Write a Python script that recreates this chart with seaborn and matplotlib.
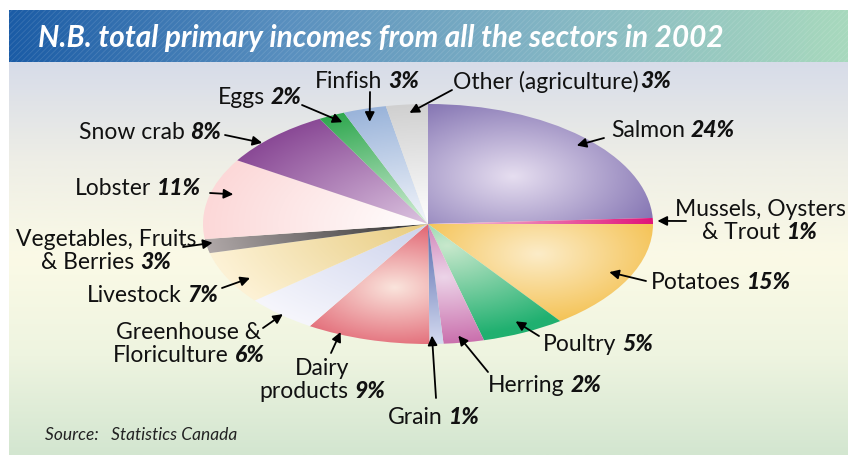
import numpy as np
import matplotlib
matplotlib.use("Agg")
import matplotlib.pyplot as plt
import seaborn as sns

# data (clockwise from 12 o'clock)
sectors = ["Salmon", "Mussels, Oysters\n& Trout", "Potatoes", "Poultry", "Herring",
           "Grain", "Dairy\nproducts", "Greenhouse &\nFloriculture", "Livestock",
           "Vegetables, Fruits\n& Berries", "Lobster", "Snow crab", "Eggs", "Finfish",
           "Other (agriculture)"]
shares = [24.2, 0.8, 15.0, 6.0, 2.9, 1.0, 8.9, 5.2, 7.1, 1.9, 10.9, 8.1, 1.9, 3.1, 3.0]
pct_text = ["24%", "1%", "15%", "5%", "2%", "1%", "9%", "6%", "7%", "3%",
            "11%", "8%", "2%", "3%", "3%"]

# wedge gradients: (inner colour, outer colour, highlight radius)
wedge_grad = [("#e6def0", "#8070b0", 0.55), ("#f6d0e2", "#e0147a", 0.0),
              ("#fcecc8", "#f2b632", 0.55), ("#c8e8cc", "#20b070", 0.2),
              ("#ecd4e8", "#be4c98", 0.45), ("#5468ac", "#d4daf0", 0.0),
              ("#fae4dc", "#d8344a", 0.55), ("#cdd3ec", "#f6f6fc", 0.0),
              ("#e8cc80", "#fdf2d6", 0.0), ("#303030", "#b0a8a8", 0.0),
              ("#ffffff", "#fcd8d8", 0.0), ("#dcc4e0", "#8a4a96", 0.0),
              ("#d4eed8", "#30a850", 0.0), ("#f4f6fb", "#9ab4da", 0.0),
              ("#ffffff", "#d0d0d0", 0.0)]

# label layout in pixels
label_xy = [(673, 131), (760, 221), (721, 283), (598, 345), (545, 386), (434, 418),
            (322, 380), (189, 344), (153, 296), (106, 251), (138, 189), (150, 133),
            (260, 98), (367, 81), (562, 82)]
arrow_tail = [(604, 139), (686, 222), (646, 282), (539, 337), (488, 373), (436, 399),
              (331, 354), (263, 329), (222, 289), (183, 248), (210, 194), (225, 136),
              (302, 106), (370, 93), (452, 91)]
# where the arrow hits the wedge: (fraction along wedge, radius)
arrow_tip = [(0.52, .93), (0.5, 1.02), (0.49, .9), (0.48, .9), (0.59, .94), (0.8, .93),
             (0.74, .98), (0.48, .99), (0.39, .91), (0.7, .97), (0.59, .9), (0.36, 1.0),
             (0.68, .93), (0.45, .89), (0.53, .93)]

sns.set_theme(style="white")
plt.rcParams['font.family'] = ['Lato', 'DejaVu Sans']

W, H = 848, 456
fig = plt.figure(figsize=(W / 100, H / 100), dpi=100)
fig.patch.set_facecolor("white")

bg = fig.add_axes([0, 0, 1, 1])
bg.set_xlim(0, W)
bg.set_ylim(H, 0)
bg.axis("off")

# background panel
panel_cmap = sns.blend_palette(["#d7dce9", "#eeeee6", "#fbfae6", "#eef4e0", "#d3e6d0"], as_cmap=True)
bg.imshow(panel_cmap(np.linspace(0, 1, 256))[:, None, :], extent=(9, W, H, 63),
          aspect="auto", interpolation="bilinear")

# title banner
banner_cmap = sns.blend_palette(["#1b5ca6", "#5a90bf", "#86b8c4", "#a8d9bd"], as_cmap=True)
bg.imshow(banner_cmap(np.linspace(0, 1, 256))[None, :, :], extent=(9, W, 63, 11),
          aspect="auto", interpolation="bilinear")
plt.rcParams['hatch.linewidth'] = 0.6
bg.add_patch(plt.Rectangle((9, 11), W - 9, 52, facecolor="none", edgecolor=(1, 1, 1, 0.12),
                           hatch="//////", linewidth=0))
bg.text(38, 38, "N.B. total primary incomes from all the sectors in 2002", color="white",
        fontsize=21.4, fontweight="bold", fontstyle="italic", va="center", ha="left")

bg.text(45, 435, "Source:   Statistics Canada", fontsize=12.5, fontstyle="italic",
        color="#222222", va="center", ha="left")

# the pie, squashed into an ellipse
cx, cy, rx, ry = 428, 225, 225, 120
ax = fig.add_axes([(cx - rx) / W, (H - cy - ry) / H, 2 * rx / W, 2 * ry / H])
wedges, _ = ax.pie(shares, startangle=90, counterclock=False, radius=1,
                   wedgeprops=dict(linewidth=0))

n = 500
X, Y = np.meshgrid(np.linspace(-1, 1, n), np.linspace(1, -1, n))
for w, (inner, outer, h) in zip(wedges, wedge_grad):
    mid = np.deg2rad((w.theta1 + w.theta2) / 2)
    dist = np.hypot(X - h * np.cos(mid), Y - h * np.sin(mid))
    D = 1.0 if h == 0 else 0.75
    t = np.clip(dist / D, 0, 1)
    cmap = sns.blend_palette([inner, outer], as_cmap=True)
    im = ax.imshow(cmap(t), extent=(-1, 1, -1, 1), interpolation="bilinear")
    im.set_clip_path(w)
    w.set_facecolor("none")

ax.set_aspect("auto")
ax.set_xlim(-1, 1)
ax.set_ylim(-1, 1)
ax.axis("off")

# overlay for labels and arrows, above the pie
top = fig.add_axes([0, 0, 1, 1])
top.set_xlim(0, W)
top.set_ylim(H, 0)
top.axis("off")

fig.canvas.draw()
renderer = fig.canvas.get_renderer()
to_top = top.transData.inverted()

fs = 16.5
line_h = 23
for i, name in enumerate(sectors):
    lx, ly = label_xy[i]
    lines = name.split("\n")
    k = len(lines)
    gap = 1 if name.startswith("Other") else 6
    for j, line in enumerate(lines):
        y = ly + (j - (k - 1) / 2) * line_h
        if j < k - 1:
            top.text(lx, y, line, fontsize=fs, ha="center", va="center", color="#111111")
            continue
        t1 = top.text(0, y, line, fontsize=fs, ha="left", va="center", color="#111111")
        t2 = top.text(0, y, pct_text[i], fontsize=fs, fontweight="black", fontstyle="italic",
                      ha="left", va="center", color="#111111")
        w1 = t1.get_window_extent(renderer).width
        w2 = t2.get_window_extent(renderer).width
        x0 = lx - (w1 + gap + w2) / 2
        t1.set_x(x0)
        t2.set_x(x0 + w1 + gap)

    # arrow tip on the wedge
    wd = wedges[i]
    a, r = arrow_tip[i]
    ang = np.deg2rad(wd.theta2 - a * (wd.theta2 - wd.theta1))
    tip = to_top.transform(ax.transData.transform((r * np.cos(ang), r * np.sin(ang))))
    top.annotate("", xy=tip, xytext=arrow_tail[i],
                 arrowprops=dict(arrowstyle="-|>", color="black", lw=1.3,
                                 mutation_scale=14, shrinkA=0, shrinkB=0))

fig.savefig("out.png", dpi=100)
